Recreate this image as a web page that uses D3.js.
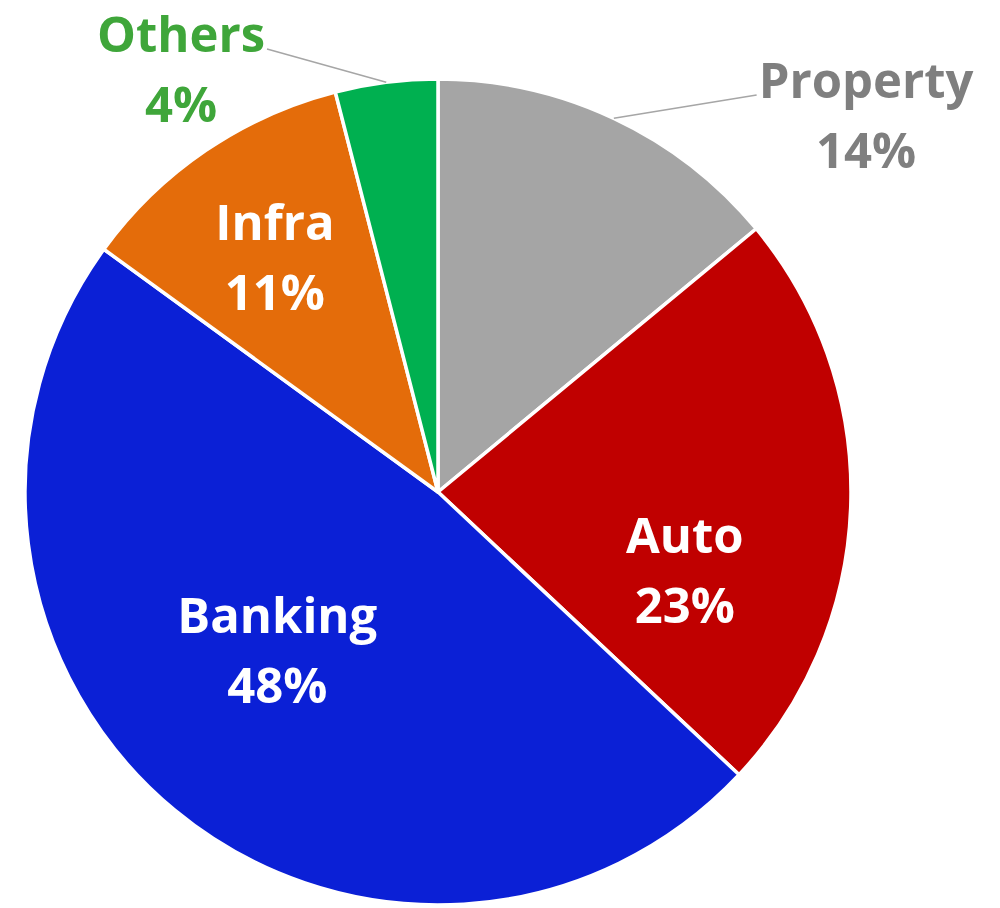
<!DOCTYPE html>
<html>
<head>
<meta charset="utf-8">
<script src="https://cdn.jsdelivr.net/npm/d3@7"></script>
<style>
  html, body { margin: 0; padding: 0; background: #ffffff; }
  svg { display: block; }
  text { font-family: "Open Sans", "Noto Sans", sans-serif; font-weight: 700; }
</style>
</head>
<body>
<svg id="chart" width="1000" height="908"></svg>
<script>
// Sector shares (percent), clockwise from 12 o'clock
const sectors = ["Property", "Auto", "Banking", "Infra", "Others"];
const shares  = [14, 23, 48, 11, 4];
const sliceColors = ["#a5a5a5", "#c00000", "#0b20d6", "#e46c0a", "#00b050"];
const labelColors = ["#7f7f7f", "#ffffff", "#ffffff", "#ffffff", "#3fa63a"];
// Labels for small slices sit outside the pie with a leader line
const outside = [true, false, false, false, true];

const W = 1000, H = 908;
const cx = 438, cy = 492, R = 413;
const fontSize = 49, lineGap = 70;

// Nudges applied to each label anchor after placing it on its label arc
const labelShift = {
  Property: [0, 0], Auto: [-13, 88], Banking: [5, -24], Infra: [-17, -2], Others: [0, 0]
};
const outsideAnchor = { Property: [866, 133], Others: [181, 87] };

const data = sectors.map((name, i) => ({
  name, value: shares[i], color: sliceColors[i], textColor: labelColors[i], outside: outside[i]
}));

const svg = d3.select("#chart");
const g = svg.append("g").attr("transform", `translate(${cx},${cy})`);

const pie = d3.pie().value(d => d.value).sort(null);
const arcs = pie(data);

const arc = d3.arc().innerRadius(0).outerRadius(R);
const edgeArc = d3.arc().innerRadius(R).outerRadius(R);
const labelArc = d3.arc().innerRadius(260).outerRadius(260);

g.selectAll("path.slice")
  .data(arcs)
  .join("path")
  .attr("class", "slice")
  .attr("d", arc)
  .attr("fill", d => d.data.color)
  .attr("stroke", "#ffffff")
  .attr("stroke-width", 3.5)
  .attr("stroke-linejoin", "round");

// Labels
const labels = g.selectAll("g.label")
  .data(arcs)
  .join("g")
  .attr("class", "label")
  .attr("transform", d => {
    let p;
    if (d.data.outside) {
      const a = outsideAnchor[d.data.name];
      p = [a[0] - cx, a[1] - cy];
    } else {
      const c = labelArc.centroid(d);
      const s = labelShift[d.data.name];
      p = [c[0] + s[0], c[1] + s[1]];
    }
    return `translate(${p[0]},${p[1]})`;
  });

labels.append("text")
  .attr("text-anchor", "middle")
  .attr("y", -lineGap / 2)
  .attr("font-size", fontSize)
  .attr("fill", d => d.data.textColor)
  .text(d => d.data.name);

labels.append("text")
  .attr("text-anchor", "middle")
  .attr("y", lineGap / 2)
  .attr("font-size", fontSize)
  .attr("fill", d => d.data.textColor)
  .text(d => d3.format("d")(d.data.value) + "%");

// Leader lines from the slice edge to the first line of each outside label
labels.filter(d => d.data.outside).each(function(d) {
  const grp = d3.select(this);
  const t = grp.select("text").node().getBBox();
  const a = outsideAnchor[d.data.name];
  const start = edgeArc.centroid(d);
  const onRight = start[0] + cx < a[0];
  const endX = (onRight ? t.x - 2 : t.x + t.width + 2) + a[0] - cx;
  const endY = -lineGap / 2 - 3 + a[1] - cy;
  g.insert("line", "g.label")
    .attr("x1", start[0]).attr("y1", start[1])
    .attr("x2", endX).attr("y2", endY)
    .attr("stroke", "#a6a6a6")
    .attr("stroke-width", 1.5);
});
</script>
</body>
</html>
